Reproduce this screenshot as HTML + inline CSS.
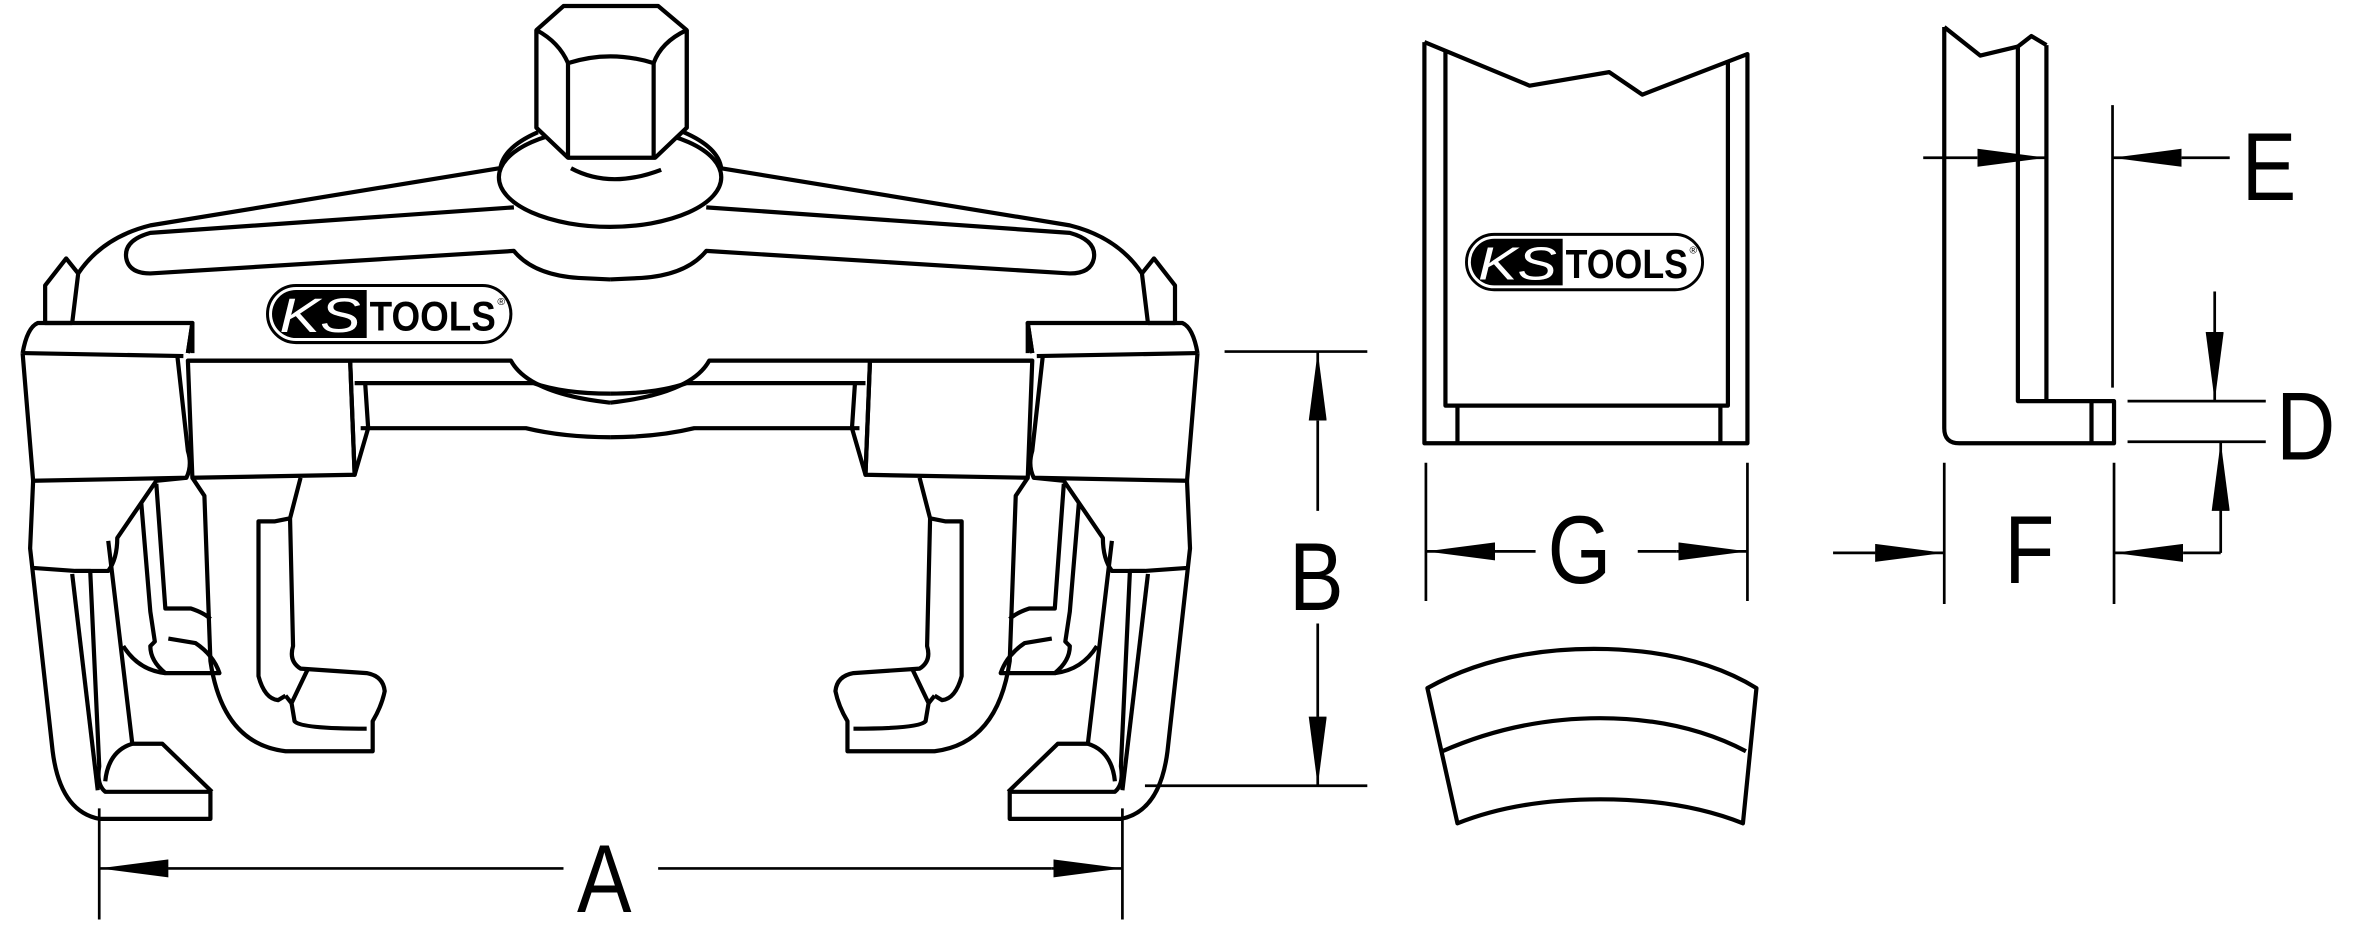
<!DOCTYPE html>
<html><head><meta charset="utf-8"><style>html,body{margin:0;padding:0;background:#fff}svg{display:block}</style></head>
<body>
<svg width="2356" height="947" viewBox="0 0 1568 630.3" xmlns="http://www.w3.org/2000/svg">
<defs>
<g id="logo">
  <rect x="0" y="0" width="162" height="38" rx="19" fill="#fff" stroke="#000" stroke-width="2"/>
  <path d="M19,3 H66 V35 H19 A16,16 0 0 1 19,3 Z" fill="#000"/>
  <text x="8" y="31" font-family="Liberation Sans,sans-serif" font-style="italic" font-size="32" fill="#fff" textLength="54" lengthAdjust="spacingAndGlyphs">KS</text>
  <text x="68" y="30" font-family="Liberation Sans,sans-serif" font-weight="bold" font-size="28" fill="#000" textLength="84" lengthAdjust="spacingAndGlyphs">TOOLS</text>
  <text x="153" y="13" font-family="Liberation Sans,sans-serif" font-size="7">®</text>
</g>
<g id="half" fill="none" stroke="#000" stroke-width="2.8" stroke-linejoin="round">
  <path d="M332,112 L100,150 Q68,158 52,182 L48,215"/>
  <path d="M342,138 L100,155 Q82,160 84,172 Q86,182 100,182 L342,167 Q355,183 385,185 L406,186"/>
  <path d="M48,215 L30,215 L30,190 L44,172 L52,182"/>
  <path d="M15,235 Q18,218 25,215 L128,215 L125,235"/>
  <path d="M15,235 L122,237 M125,240 L340,240 Q352,262 406,268"/>
  <path d="M236,255 L355,255 Q375,262 406,262"/>
  <path d="M240,285 L350,285 Q375,291 406,291"/>
  <path d="M15,235 L22,320 L124,318 Q128,310 125,300 L118,237"/>
  <path d="M125,240 L128,318 L236,316 L233,240 Z"/>
  <path d="M233,240 L236,316 L245,285 L243,255"/>
  <path d="M125,235 L128,215 L128,235"/>
  <path d="M22,320 L20,365 L35,500 Q40,540 66,545 L140,545 L140,527 L70,527 Q64,522 66,510 L60,380 L50,380 L22,378"/>
  <path d="M50,380 L72,380 Q78,372 78,358 L104,320 L124,318"/>
  <path d="M48,382 L65,526"/>
  <path d="M72,360 L88,495 L108,495 L141,527"/>
  <path d="M88,495 Q72,500 70,520"/>
  <path d="M94,335 L100,407 L103,427 L100,430 Q100,440 110,448 L146,448 Q142,436 130,428 L112,425"/>
  <path d="M104,322 L110,405 L127,405 Q136,408 140,412"/>
  <path d="M82,430 Q92,446 110,448"/>
  <path d="M128,318 L136,330 L140,440 Q148,495 190,500 L248,500 L248,480 Q254,470 256,460 Q255,450 244,448 L200,445 Q192,440 195,430 L193,345 L200,318"/>
  <path d="M193,345 L183,347 L172,347 L172,450 Q176,465 185,466 L190,463"/>
  <path d="M205,445 L194,468 L196,480 Q200,485 244,485"/>
  <path d="M190,463 L194,468"/>
</g>
<marker id="a" viewBox="0 0 46 12" refX="46" refY="6" markerWidth="46" markerHeight="12" markerUnits="userSpaceOnUse" orient="auto"><path d="M0,0 L46,6 L0,12 Z" fill="#000"/></marker>
</defs>

<use href="#half"/>
<use href="#half" transform="translate(812,0) scale(-1,1)"/>

<g fill="none" stroke="#000" stroke-width="2.8" stroke-linejoin="round">
  <path d="M357,20 L375,4 L438,4 L457,20 L457,85 L436,105 L378,105 L357,85 Z"/>
  <ellipse cx="406" cy="118" rx="74" ry="33" fill="#fff"/>
  <path d="M357,20 L357,85 L378,105 L436,105 L457,85 L457,20" fill="#fff"/>
  <path d="M357,20 Q372,28 378,42 Q406,33 435,42 Q440,28 457,20"/>
  <path d="M378,42 L378,105 M435,42 L435,105"/>
  <path d="M380,112 Q406,126 440,113"/>
  <path d="M358,88 Q335,98 333,112 M455,88 Q478,98 480,112"/>
</g>
<use href="#logo" x="178" y="190"/>

<g stroke="#000" stroke-width="1.8" fill="none">
  <line x1="66" y1="538" x2="66" y2="612"/>
  <line x1="747" y1="538" x2="747" y2="612"/>
  <line x1="112" y1="578" x2="66" y2="578" marker-end="url(#a)"/>
  <line x1="700" y1="578" x2="747" y2="578" marker-end="url(#a)"/>
  <line x1="112" y1="578" x2="375" y2="578"/>
  <line x1="438" y1="578" x2="700" y2="578"/>
  <line x1="815" y1="234" x2="910" y2="234"/>
  <line x1="762" y1="523" x2="910" y2="523"/>
  <line x1="877" y1="280" x2="877" y2="234" marker-end="url(#a)"/>
  <line x1="877" y1="280" x2="877" y2="340"/>
  <line x1="877" y1="477" x2="877" y2="523" marker-end="url(#a)"/>
  <line x1="877" y1="415" x2="877" y2="477"/>
</g>
<g font-family="Liberation Sans,sans-serif" font-size="64" fill="#000">
  <text x="384" y="607" transform="translate(384,0) scale(0.85,1) translate(-384,0)">A</text>
  <text x="858" y="406" transform="translate(858,0) scale(0.85,1) translate(-858,0)">B</text>
  <text x="1030" y="388" transform="translate(1030,0) scale(0.85,1) translate(-1030,0)">G</text>
  <text x="1334" y="388" transform="translate(1334,0) scale(0.85,1) translate(-1334,0)">F</text>
  <text x="1492" y="133" transform="translate(1492,0) scale(0.85,1) translate(-1492,0)">E</text>
  <text x="1515" y="306" transform="translate(1515,0) scale(0.85,1) translate(-1515,0)">D</text>
</g>

<g fill="none" stroke="#000" stroke-width="2.8" stroke-linejoin="round">
  <path d="M948,28 L948,295 L1163,295 L1163,36 L1093,63 L1071,48 L1018,57 L948,28"/>
  <path d="M962,34 L962,270 L1150,270 L1150,40"/>
  <path d="M970,270 L970,295 M1145,270 L1145,295"/>
  <path d="M950,458 Q1000,430 1070,432 Q1130,434 1169,458 L1160,548 Q1120,532 1065,532 Q1010,532 970,548 Z"/>
  <path d="M960,500 Q1010,478 1065,478 Q1120,478 1162,500"/>
  <path d="M1294,18 L1294,285 Q1294,295 1304,295 L1407,295 L1407,267 L1343,267 L1343,31 L1352,24 L1362,30"/>
  <path d="M1294,18 L1318,37 L1343,31"/>
  <path d="M1362,30 L1362,267"/>
  <path d="M1392,267 L1392,295"/>
</g>
<use href="#logo" transform="translate(976,156) scale(0.97)"/>

<g stroke="#000" stroke-width="1.8" fill="none">
  <line x1="949" y1="308" x2="949" y2="400"/>
  <line x1="1163" y1="308" x2="1163" y2="400"/>
  <line x1="996" y1="367" x2="949" y2="367" marker-end="url(#a)"/>
  <line x1="996" y1="367" x2="1022" y2="367"/>
  <line x1="1116" y1="367" x2="1163" y2="367" marker-end="url(#a)"/>
  <line x1="1090" y1="367" x2="1116" y2="367"/>
  <line x1="1294" y1="308" x2="1294" y2="402"/>
  <line x1="1407" y1="308" x2="1407" y2="402"/>
  <line x1="1220" y1="368" x2="1248" y2="368"/>
  <line x1="1248" y1="368" x2="1294" y2="368" marker-end="url(#a)"/>
  <line x1="1453" y1="368" x2="1407" y2="368" marker-end="url(#a)"/>
  <line x1="1453" y1="368" x2="1478" y2="368"/>
  <line x1="1406" y1="70" x2="1406" y2="258"/>
  <line x1="1280" y1="105" x2="1316" y2="105"/>
  <line x1="1316" y1="105" x2="1362" y2="105" marker-end="url(#a)"/>
  <line x1="1452" y1="105" x2="1406" y2="105" marker-end="url(#a)"/>
  <line x1="1452" y1="105" x2="1484" y2="105"/>
  <line x1="1416" y1="267" x2="1508" y2="267"/>
  <line x1="1416" y1="294" x2="1508" y2="294"/>
  <line x1="1474" y1="194" x2="1474" y2="220"/>
  <line x1="1474" y1="220" x2="1474" y2="267" marker-end="url(#a)"/>
  <line x1="1478" y1="340" x2="1478" y2="294" marker-end="url(#a)"/>
  <line x1="1478" y1="340" x2="1478" y2="368"/>
</g>
</svg>
</body></html>
